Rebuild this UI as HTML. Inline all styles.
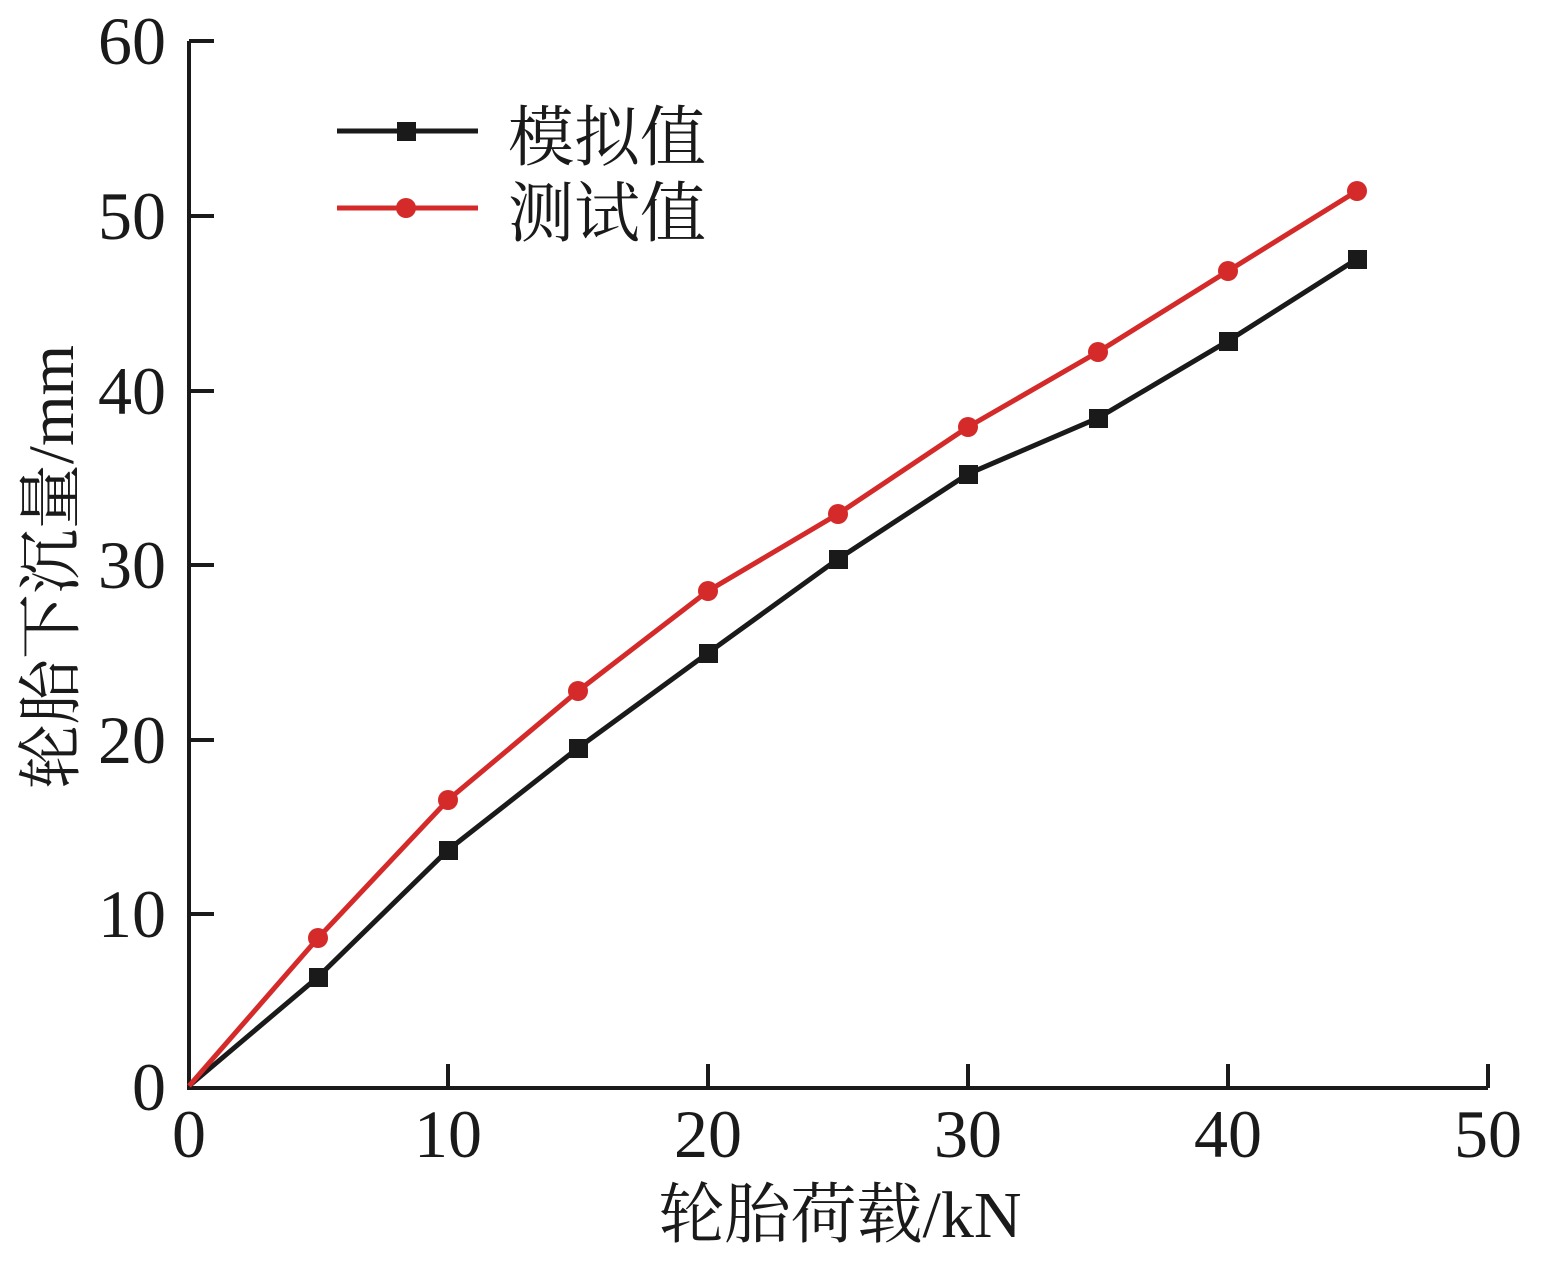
<!DOCTYPE html>
<html><head><meta charset="utf-8"><style>body{margin:0;background:#fff}</style></head><body>
<svg width="1551" height="1261" viewBox="0 0 1551 1261" xmlns="http://www.w3.org/2000/svg" font-family="'Liberation Serif','Noto Serif CJK SC',serif" fill="#1a1a1a">
<g stroke="#1a1a1a" stroke-width="4" fill="none">
<path d="M189,41 V1088 H1488"/>
<path d="M189,41 H214 M189,216 H214 M189,391 H214 M189,565 H214 M189,740 H214 M189,914 H214"/>
<path d="M448,1088 V1064 M708,1088 V1064 M968,1088 V1064 M1228,1088 V1064 M1488,1088 V1064"/>
</g>
<g font-size="68" text-anchor="end">
<text x="166" y="64">60</text><text x="166" y="239">50</text><text x="166" y="414">40</text><text x="166" y="588">30</text><text x="166" y="763">20</text><text x="166" y="937">10</text><text x="166" y="1110">0</text>
</g>
<g font-size="68" text-anchor="middle">
<text x="189" y="1157">0</text><text x="448" y="1157">10</text><text x="708" y="1157">20</text><text x="968" y="1157">30</text><text x="1228" y="1157">40</text><text x="1488" y="1157">50</text>
</g>
<text x="840" y="1237" font-size="66" text-anchor="middle">轮胎荷载/kN</text>
<text transform="translate(73,567) rotate(-90)" font-size="65" text-anchor="middle">轮胎下沉量/mm</text>
<polyline fill="none" stroke="#1a1a1a" stroke-width="5" points="189,1086 318,977 448,850 578,748 708,653 838,559 968,474 1098,418 1228,341 1357,259"/>
<g fill="#1a1a1a">
<rect x="309" y="968" width="19" height="19"/><rect x="439" y="841" width="19" height="19"/><rect x="569" y="739" width="19" height="19"/><rect x="699" y="644" width="19" height="19"/><rect x="829" y="550" width="19" height="19"/><rect x="959" y="465" width="19" height="19"/><rect x="1089" y="409" width="19" height="19"/><rect x="1219" y="332" width="19" height="19"/><rect x="1348" y="250" width="19" height="19"/>
</g>
<polyline fill="none" stroke="#d42a2a" stroke-width="5" points="189,1086 318,938 448,800 578,691 708,591 838,514 968,427 1098,352 1228,271 1357,191"/>
<g fill="#d42a2a">
<circle cx="318" cy="938" r="10"/><circle cx="448" cy="800" r="10"/><circle cx="578" cy="691" r="10"/><circle cx="708" cy="591" r="10"/><circle cx="838" cy="514" r="10"/><circle cx="968" cy="427" r="10"/><circle cx="1098" cy="352" r="10"/><circle cx="1228" cy="271" r="10"/><circle cx="1357" cy="191" r="10"/>
</g>
<line x1="337" y1="131" x2="478" y2="131" stroke="#1a1a1a" stroke-width="5"/>
<rect x="397" y="122" width="19" height="19"/>
<line x1="337" y1="208" x2="478" y2="208" stroke="#d42a2a" stroke-width="5"/>
<circle cx="406" cy="208" r="10" fill="#d42a2a"/>
<text x="508" y="160" font-size="66">模拟值</text>
<text x="508" y="236" font-size="66">测试值</text>
</svg>
</body></html>
